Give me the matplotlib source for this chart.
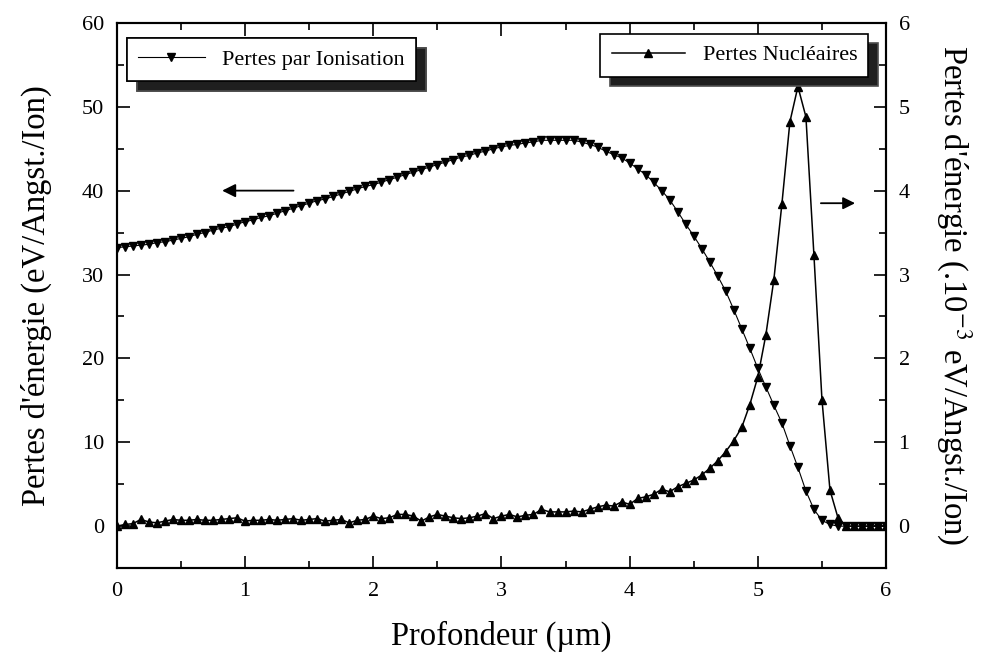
import numpy as np
import matplotlib
matplotlib.use("Agg")
import matplotlib.pyplot as plt
from matplotlib.ticker import MultipleLocator

plt.rcParams['font.family'] = ['Liberation Serif', 'DejaVu Serif']
plt.rcParams['mathtext.fontset'] = 'stix'

# depth grid (um), 97 samples between 0 and 6
depth = np.linspace(0, 6, 97)

# ionisation losses (eV/Angst./Ion), left axis
ionisation = [
    33.2, 33.3, 33.4, 33.5, 33.6, 33.8, 33.9, 34.1,
    34.3, 34.5, 34.8, 35.0, 35.3, 35.5, 35.7, 36.0,
    36.3, 36.5, 36.8, 37.0, 37.3, 37.6, 37.9, 38.2,
    38.5, 38.8, 39.0, 39.3, 39.6, 39.9, 40.2, 40.5,
    40.7, 41.0, 41.3, 41.6, 41.9, 42.2, 42.5, 42.8,
    43.1, 43.4, 43.7, 44.0, 44.2, 44.5, 44.7, 45.0,
    45.2, 45.4, 45.5, 45.7, 45.8, 46.0, 46.0, 46.0,
    46.0, 46.0, 45.8, 45.5, 45.2, 44.7, 44.3, 43.9,
    43.3, 42.6, 41.9, 41.0, 40.0, 38.9, 37.5, 36.0,
    34.6, 33.1, 31.5, 29.8, 28.0, 25.8, 23.5, 21.2,
    18.8, 16.6, 14.4, 12.3, 9.6, 7.0, 4.2, 2.0,
    0.7, 0.2, 0.0, 0.0, 0.0, 0.0, 0.0, 0.0,
    0.0,
]

# nuclear losses (1e-3 eV/Angst./Ion), right axis
nucleaire = [
    0.00, 0.02, 0.03, 0.08, 0.05, 0.04, 0.06, 0.08,
    0.07, 0.07, 0.08, 0.07, 0.07, 0.08, 0.09, 0.10,
    0.06, 0.07, 0.07, 0.08, 0.07, 0.08, 0.09, 0.07,
    0.08, 0.09, 0.06, 0.07, 0.08, 0.04, 0.07, 0.08,
    0.12, 0.09, 0.10, 0.14, 0.14, 0.12, 0.06, 0.11,
    0.14, 0.12, 0.10, 0.09, 0.10, 0.12, 0.15, 0.09,
    0.12, 0.14, 0.11, 0.13, 0.14, 0.20, 0.17, 0.17,
    0.17, 0.18, 0.17, 0.20, 0.23, 0.25, 0.24, 0.29,
    0.26, 0.33, 0.35, 0.38, 0.44, 0.41, 0.47, 0.51,
    0.55, 0.61, 0.69, 0.78, 0.89, 1.02, 1.18, 1.45,
    1.78, 2.28, 2.94, 3.84, 4.82, 5.24, 4.88, 3.23,
    1.51, 0.43, 0.10, 0.00, 0.00, 0.00, 0.00, 0.00,
    0.00,
]

fig = plt.figure(figsize=(9.9, 6.53), dpi=100)
ax = fig.add_axes([0.118, 0.130, 0.777, 0.835])
ax2 = ax.twinx()

l1, = ax.plot(depth, ionisation, color='black', lw=0.8, marker='v',
              ms=5.5, label='Pertes par Ionisation')
l2, = ax2.plot(depth, nucleaire, color='black', lw=1.1, marker='^',
               ms=5.5, label='Pertes Nucléaires')

ax.set_xlim(0, 6)
ax.set_ylim(-5, 60)
ax2.set_ylim(-0.5, 6)

ax.xaxis.set_major_locator(MultipleLocator(1))
ax.xaxis.set_minor_locator(MultipleLocator(0.5))
ax.yaxis.set_major_locator(MultipleLocator(10))
ax.yaxis.set_minor_locator(MultipleLocator(5))
ax2.yaxis.set_major_locator(MultipleLocator(1))
ax2.yaxis.set_minor_locator(MultipleLocator(0.5))

for a in (ax, ax2):
    a.tick_params(which='major', direction='in', length=9, width=1.2,
                  labelsize=16)
    a.tick_params(which='minor', direction='in', length=5, width=1.2)
    for s in a.spines.values():
        s.set_linewidth(1.5)
ax.tick_params(which='both', top=True)
ax.tick_params(axis='x', pad=10)
ax.tick_params(axis='y', pad=9)
ax2.tick_params(axis='y', pad=9)

ax.set_xlabel('Profondeur (µm)', fontsize=23.5, labelpad=14)
ax.set_ylabel("Pertes d'énergie (eV/Angst./Ion)", fontsize=23.5, labelpad=22)
ax2.set_ylabel("Pertes d'énergie (.10$^{-3}$ eV/Angst./Ion)", fontsize=23.5,
               rotation=270, labelpad=46)

# direction arrows
ax.annotate('', xy=(0.8, 40), xytext=(1.4, 40),
            arrowprops=dict(arrowstyle='-|>', color='black', lw=1.3,
                            mutation_scale=20))
ax2.annotate('', xy=(5.78, 3.85), xytext=(5.47, 3.85),
             arrowprops=dict(arrowstyle='-|>', color='black', lw=1.3,
                             mutation_scale=18))

shadow = {'ox': 7, 'oy': -7, 'facecolor': '0.12', 'alpha': 1}
leg1 = ax.legend(handles=[l1], loc='upper left', bbox_to_anchor=(0.013, 0.972),
                 fontsize=16, frameon=True, fancybox=False, shadow=shadow,
                 edgecolor='black', framealpha=1, handlelength=3.0,
                 borderpad=0.5, borderaxespad=0)
leg1.get_frame().set_linewidth(1.2)
ax.add_artist(leg1)
leg2 = ax2.legend(handles=[l2], loc='upper right', bbox_to_anchor=(0.977, 0.98),
                  fontsize=16, frameon=True, fancybox=False, shadow=shadow,
                  edgecolor='black', framealpha=1, handlelength=3.3,
                  borderpad=0.5, borderaxespad=0)
leg2.get_frame().set_linewidth(1.2)

fig.savefig('out.png', dpi=100)
